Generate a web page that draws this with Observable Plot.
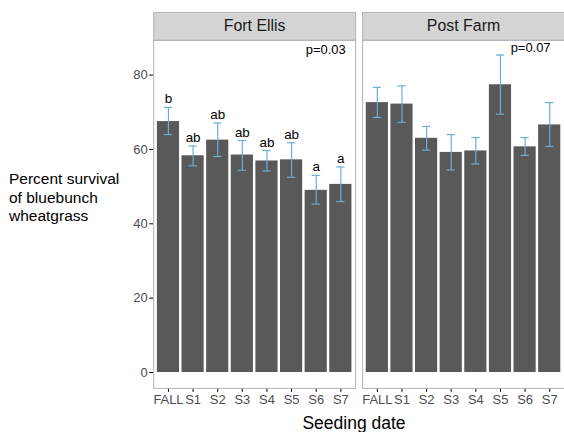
<!DOCTYPE html>
<html>
<head>
<meta charset="utf-8">
<script src="https://cdn.jsdelivr.net/npm/d3@7"></script>
<script src="https://cdn.jsdelivr.net/npm/@observablehq/plot@0.6"></script>
<style>
  html, body { margin: 0; padding: 0; background: #fff; overflow: hidden; }
  #wrap { position: relative; width: 564px; height: 432px; overflow: hidden; font-family: "Liberation Sans", Arial, sans-serif; }
  #ylab { position: absolute; left: 9px; top: 170px; font-size: 15.5px; line-height: 18.5px; color: #000; }
  #xlab { position: absolute; left: 0; width: 708px; top: 413px; text-align: center; font-size: 17.5px; color: #000; }
</style>
</head>
<body>
<div id="wrap">
  <div id="chart"></div>
  <div id="ylab">Percent survival<br>of bluebunch<br>wheatgrass</div>
  <div id="xlab">Seeding date</div>
</div>
<script>
const categories = ["FALL", "S1", "S2", "S3", "S4", "S5", "S6", "S7"];
const sites = ["Fort Ellis", "Post Farm"];
const fortEllisMean = [67.5, 58.3, 62.5, 58.5, 56.9, 57.2, 49.0, 50.6];
const fortEllisLow  = [64.0, 55.6, 58.1, 54.4, 54.2, 52.5, 45.3, 46.0];
const fortEllisHigh = [71.3, 60.9, 67.1, 62.4, 59.7, 61.8, 53.0, 55.3];
const fortEllisLetters = ["b", "ab", "ab", "ab", "ab", "ab", "a", "a"];
const postFarmMean = [72.6, 72.2, 63.0, 59.2, 59.6, 77.4, 60.7, 66.6];
const postFarmLow  = [68.6, 67.3, 59.8, 54.5, 56.1, 69.5, 58.4, 60.8];
const postFarmHigh = [76.7, 77.1, 66.2, 64.0, 63.2, 85.4, 63.2, 72.6];
const pValues = ["p=0.03", "p=0.07"];
const yTicks = [0, 20, 40, 60, 80];

const rows = [];
categories.forEach((c, i) => {
  rows.push({site: sites[0], date: c, mean: fortEllisMean[i], low: fortEllisLow[i], high: fortEllisHigh[i], letter: fortEllisLetters[i]});
});
categories.forEach((c, i) => {
  rows.push({site: sites[1], date: c, mean: postFarmMean[i], low: postFarmLow[i], high: postFarmHigh[i], letter: ""});
});
const pRows = sites.map((s, i) => ({site: s, p: pValues[i]}));

const errColor = "#6baed6";
const chart = Plot.plot({
  width: 567,
  height: 432,
  marginLeft: 154,
  marginRight: 0,
  marginTop: 40,
  marginBottom: 42,
  style: {fontFamily: "Liberation Sans, Arial, sans-serif", fontSize: "13px", background: "#fff"},
  fx: {domain: sites, paddingInner: 7 / 210, paddingOuter: 0, round: false, axis: null, label: null},
  x: {domain: categories, paddingInner: 0.1, paddingOuter: 0.15, round: false, label: null, tickSize: 4, tickPadding: 2},
  y: {domain: [-4.28, 89.36], ticks: yTicks, label: null, tickSize: 4, tickPadding: 2},
  marks: [
    Plot.frame({fill: "#d4d4d4", stroke: "#b3b3b3", insetTop: -28, insetBottom: 350}),
    Plot.frame({stroke: "#b3b3b3"}),
    Plot.text(sites, {fx: d => d, text: d => d, frameAnchor: "top", dy: -14, fontSize: 16, fill: "#1a1a1a", lineAnchor: "middle"}),
    Plot.barY(rows, {fx: "site", x: "date", y: "mean", fill: "#595959"}),
    Plot.ruleX(rows, {fx: "site", x: "date", y1: "low", y2: "high", stroke: errColor, strokeWidth: 1.2}),
    Plot.tickY(rows, {fx: "site", x: "date", y: "low", stroke: errColor, strokeWidth: 1.2, insetLeft: 7, insetRight: 7}),
    Plot.tickY(rows, {fx: "site", x: "date", y: "high", stroke: errColor, strokeWidth: 1.2, insetLeft: 7, insetRight: 7}),
    Plot.text(rows, {fx: "site", x: "date", y: "high", text: "letter", dy: -4, lineAnchor: "bottom", fontSize: 13.5, fill: "#000"}),
    Plot.text(pRows.filter(d => d.site === sites[0]), {fx: "site", text: "p", frameAnchor: "top-right", dx: -10, dy: 10, lineAnchor: "middle", textAnchor: "end", fontSize: 13, fill: "#000"}),
    Plot.text(pRows.filter(d => d.site === sites[1]), {fx: "site", text: "p", frameAnchor: "top-right", dx: -14, dy: 8, lineAnchor: "middle", textAnchor: "end", fontSize: 13, fill: "#000"})
  ]
});
chart.querySelectorAll("[aria-label='x-axis tick label'] text, [aria-label='y-axis tick label'] text").forEach(t => t.setAttribute("fill", "#4d4d4d"));
document.getElementById("chart").appendChild(chart);
</script>
</body>
</html>
